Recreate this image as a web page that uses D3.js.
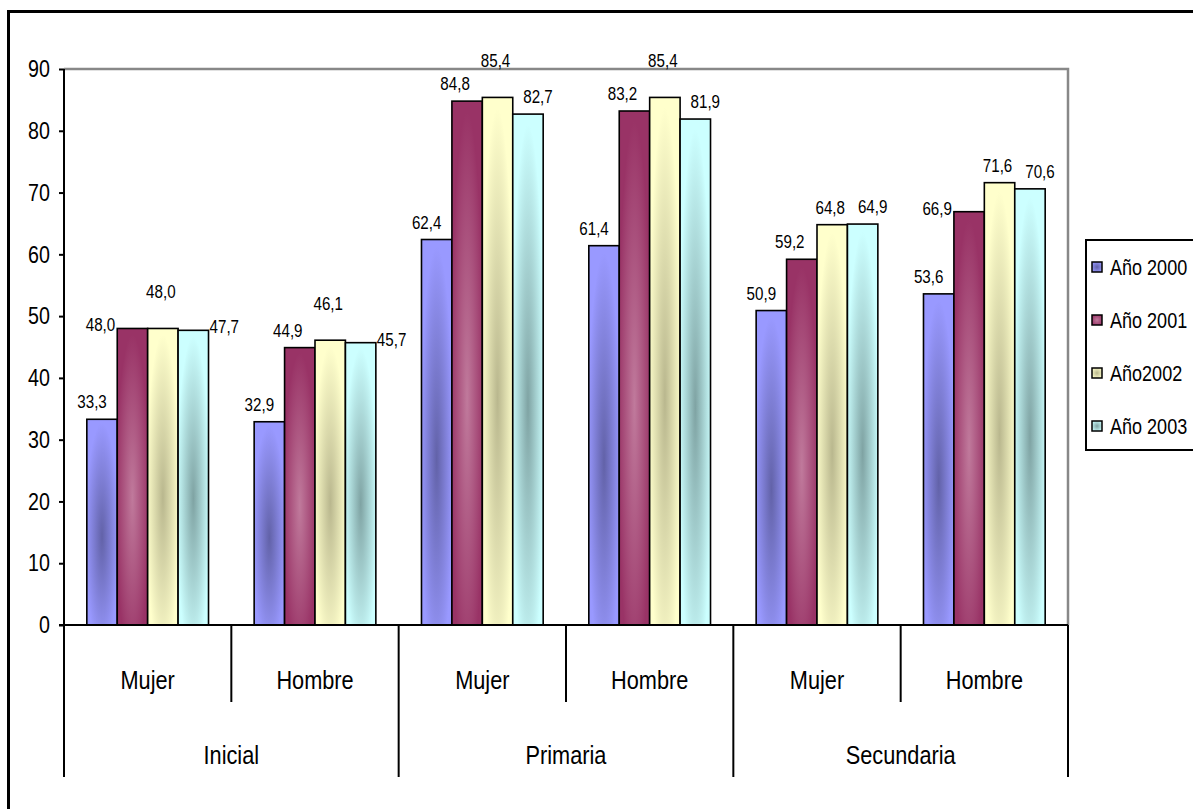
<!DOCTYPE html>
<html>
<head>
<meta charset="utf-8">
<script src="https://cdn.jsdelivr.net/npm/d3@7"></script>
<style>
	body { margin: 0; background: #fff; }
	svg text { font-family: 'Liberation Sans Narrow', 'Arial Narrow', 'Liberation Sans', Arial, sans-serif; fill: #000; }
</style>
</head>
<body>
<div id="chart"></div>
<script>
// data
var subcats = ['Mujer', 'Hombre', 'Mujer', 'Hombre', 'Mujer', 'Hombre'];
var levels = ['Inicial', 'Primaria', 'Secundaria'];
var series = ['Año 2000', 'Año 2001', 'Año2002', 'Año 2003'];
var anio2000 = [33.3, 32.9, 62.4, 61.4, 50.9, 53.6];
var anio2001 = [48.0, 44.9, 84.8, 83.2, 59.2, 66.9];
var anio2002 = [48.0, 46.1, 85.4, 85.4, 64.8, 71.6];
var anio2003 = [47.7, 45.7, 82.7, 81.9, 64.9, 70.6];
var yTicks = [0, 10, 20, 30, 40, 50, 60, 70, 80, 90];

// where excel put each data label (a = above, L = left of top, R = right of top, h = high)
var labelPlace = [
	['a', 'L', 'h', 'R'],
	['a', 'a', 'h', 'R'],
	['a', 'a', 'h', 'a'],
	['a', 'a', 'h', 'a'],
	['a', 'a', 'a', 'a'],
	['a', 'L', 'a', 'a']
];

var values = [anio2000, anio2001, anio2002, anio2003];
var baseCol = ['#9999ff', '#993366', '#ffffcc', '#ccffff'];
var midCol = ['#6262a8', '#c07a9c', '#b9b78e', '#7fa3a3'];
var labelDx = [-10, -12, -2, 10];
var sx = 0.82; // no narrow font installed, squeeze the regular one

var width = 1193, height = 809;
var svg = d3.select('#chart').append('svg')
	.attr('width', width).attr('height', height);

function squeeze(sel, fx, fy) {
	sel.attr('transform', function(d, i) {
		return 'translate(' + fx(d, i) + ',' + fy(d, i) + ') scale(' + sx + ',1)';
	});
}

var defs = svg.append('defs');
series.forEach(function(s, i) {
	var g = defs.append('radialGradient')
		.attr('id', 'grad' + i)
		.attr('cx', 0.5).attr('cy', 0.57).attr('r', 0.55);
	g.append('stop').attr('offset', '0%').attr('stop-color', midCol[i]);
	g.append('stop').attr('offset', '100%').attr('stop-color', baseCol[i]);
	var lg = defs.append('radialGradient')
		.attr('id', 'lgrad' + i)
		.attr('cx', 0.5).attr('cy', 0.5).attr('r', 0.6);
	lg.append('stop').attr('offset', '0%').attr('stop-color', midCol[i]);
	lg.append('stop').attr('offset', '100%').attr('stop-color', baseCol[i]);
});

// outer frame
svg.append('path')
	.attr('d', 'M8.5,' + (height + 5) + 'V11.5H' + (width + 5))
	.attr('fill', 'none').attr('stroke', '#000').attr('stroke-width', 3);

var pLeft = 64, pRight = 1068, pTop = 69, pBottom = 625;

var x0 = d3.scaleBand().domain(d3.range(subcats.length)).range([pLeft, pRight]);
var x1 = d3.scaleBand().domain(d3.range(series.length))
	.range([0, x0.bandwidth()]).paddingInner(0).paddingOuter(0.75);
var y = d3.scaleLinear().domain([0, 90]).range([pBottom, pTop]);
var fmt = function(v) { return d3.format('.1f')(v).replace('.', ','); };

// plot area border (grey top and right)
svg.append('path')
	.attr('d', 'M' + pLeft + ',' + pTop + 'H' + pRight + 'V' + pBottom)
	.attr('fill', 'none').attr('stroke', '#888').attr('stroke-width', 2.5);

// bars
var bars = [];
subcats.forEach(function(c, ci) {
	series.forEach(function(s, si) {
		bars.push({ci: ci, si: si, v: values[si][ci], place: labelPlace[ci][si]});
	});
});

svg.append('g').selectAll('rect')
	.data(bars)
	.enter()
	.append('rect')
	.attr('x', function(d) { return x0(d.ci) + x1(d.si); })
	.attr('y', function(d) { return y(d.v); })
	.attr('width', x1.bandwidth())
	.attr('height', function(d) { return y(0) - y(d.v); })
	.attr('fill', function(d) { return 'url(#grad' + d.si + ')'; })
	.attr('stroke', '#000')
	.attr('stroke-width', 1.6);

// data labels
var dl = svg.append('g').selectAll('text')
	.data(bars)
	.enter()
	.append('text')
	.attr('text-anchor', function(d) {
		if (d.place == 'L') return 'end';
		if (d.place == 'R') return 'start';
		return 'middle';
	})
	.attr('dominant-baseline', 'central')
	.style('font-size', '18.5px')
	.text(function(d) { return fmt(d.v); });
squeeze(dl, function(d) {
	var bx = x0(d.ci) + x1(d.si);
	if (d.place == 'L') return bx - 2;
	if (d.place == 'R') return bx + x1.bandwidth() + 1;
	return bx + x1.bandwidth() / 2 + labelDx[d.si];
}, function(d) {
	var t = y(d.v);
	if (d.place == 'L' || d.place == 'R') return t - 3;
	if (d.place == 'h') return t - 36;
	return t - 17;
});

// y axis
var yAxis = svg.append('g')
	.attr('transform', 'translate(' + pLeft + ',0)')
	.call(d3.axisLeft(y).tickValues(yTicks).tickSize(5).tickPadding(14).tickFormat(d3.format('d')));
yAxis.select('.domain').attr('stroke', '#000').attr('stroke-width', 2).attr('d', 'M0,' + pTop + 'V' + pBottom);
yAxis.selectAll('.tick line').attr('stroke', '#000').attr('stroke-width', 2);
yAxis.selectAll('.tick text')
	.style('font-size', '24px')
	.style('font-family', "'Liberation Sans Narrow', 'Arial Narrow', 'Liberation Sans', Arial, sans-serif")
	.attr('fill', '#000')
	.attr('x', -14 / sx)
	.attr('transform', 'scale(' + sx + ',1)');

// category axis
var cat = svg.append('g');
cat.append('line')
	.attr('x1', pLeft - 5).attr('x2', pRight)
	.attr('y1', pBottom).attr('y2', pBottom)
	.attr('stroke', '#000').attr('stroke-width', 2);

var edges = d3.range(subcats.length + 1).map(function(i) {
	return i < subcats.length ? x0(i) : pRight;
});
cat.selectAll('.sep')
	.data(edges)
	.enter()
	.append('line')
	.attr('x1', function(d) { return d; }).attr('x2', function(d) { return d; })
	.attr('y1', pBottom)
	.attr('y2', function(d, i) { return i % 2 == 0 ? 777 : 702; })
	.attr('stroke', '#000').attr('stroke-width', 2);

var sub = cat.selectAll('.sub')
	.data(subcats)
	.enter()
	.append('text')
	.attr('text-anchor', 'middle')
	.attr('dominant-baseline', 'central')
	.style('font-size', '26.5px')
	.text(function(d) { return d; });
squeeze(sub, function(d, i) { return x0(i) + x0.bandwidth() / 2; }, function() { return 680; });

var lvl = cat.selectAll('.lvl')
	.data(levels)
	.enter()
	.append('text')
	.attr('text-anchor', 'middle')
	.attr('dominant-baseline', 'central')
	.style('font-size', '26.5px')
	.text(function(d) { return d; });
squeeze(lvl, function(d, i) { return x0(i * 2) + x0.bandwidth(); }, function() { return 755; });

// legend
var legend = svg.append('g');
legend.append('rect')
	.attr('x', 1086).attr('y', 240)
	.attr('width', 140).attr('height', 210)
	.attr('fill', '#fff').attr('stroke', '#000').attr('stroke-width', 2);

var ly = d3.scalePoint().domain(series).range([267, 426]);
var items = legend.selectAll('.item')
	.data(series)
	.enter()
	.append('g')
	.attr('transform', function(d) { return 'translate(1092,' + ly(d) + ')'; });
items.append('rect')
	.attr('x', 0).attr('y', -5)
	.attr('width', 10).attr('height', 10)
	.attr('fill', function(d, i) { return 'url(#lgrad' + i + ')'; })
	.attr('stroke', '#000').attr('stroke-width', 1.5);
var lt = items.append('text')
	.attr('dominant-baseline', 'central')
	.style('font-size', '22px')
	.text(function(d) { return d; });
squeeze(lt, function() { return 18; }, function() { return 0; });
</script>
</body>
</html>
